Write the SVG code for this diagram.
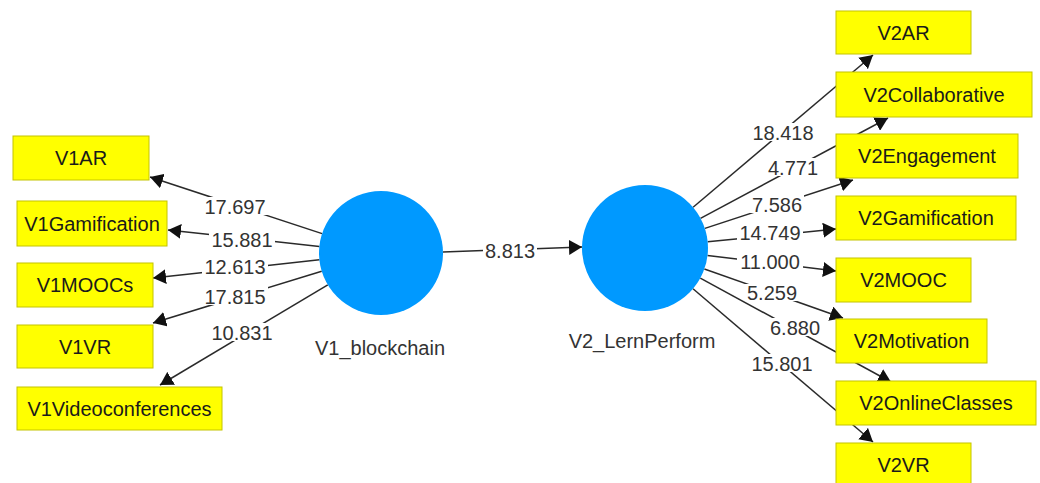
<svg xmlns="http://www.w3.org/2000/svg" width="1040" height="483" viewBox="0 0 1040 483">
  <defs>
    <marker id="arrow" markerUnits="userSpaceOnUse" markerWidth="13" markerHeight="15" refX="13" refY="7.5" orient="auto">
      <path d="M0,0 L13,7.5 L0,15 z" fill="#111"/>
    </marker>
    <style>
      text { font-family: "Liberation Sans", Arial, sans-serif; font-size: 20px; }
      .ind rect { fill: #ffff00; stroke: #c4c400; stroke-width: 1; }
      .ind text { fill: #1a1a1a; text-anchor: middle; }
      .lv circle { fill: #0099ff; }
      .lv text { fill: #333; text-anchor: middle; }
      .edges line { stroke: #2a2a2a; stroke-width: 1.5; marker-end: url(#arrow); }
      .val rect { fill: #fff; }
      .val text { fill: #333; text-anchor: middle; }
    </style>
  </defs>
  <rect width="1040" height="483" fill="#fff"/>

  <!-- connectors -->
  <g id="edges" class="edges">
    <line x1="443" y1="252" x2="582" y2="247"/>
    <line x1="322.1" y1="233.6" x2="150" y2="177"/>
    <line x1="319.4" y1="246.4" x2="168" y2="230"/>
    <line x1="319.4" y1="259.8" x2="153" y2="278"/>
    <line x1="321.7" y1="271.2" x2="153" y2="323"/>
    <line x1="327.8" y1="284.8" x2="160" y2="385"/>
    <line x1="693.1" y1="207.3" x2="873" y2="55"/>
    <line x1="700.5" y1="218.3" x2="888" y2="118"/>
    <line x1="704.9" y1="228.4" x2="853" y2="180"/>
    <line x1="707.7" y1="241.8" x2="836" y2="229"/>
    <line x1="707.5" y1="255.5" x2="836" y2="271"/>
    <line x1="704.4" y1="269" x2="843" y2="318"/>
    <line x1="700.3" y1="278.1" x2="891" y2="382"/>
    <line x1="693" y1="288.8" x2="873" y2="442"/>
  </g>

  <!-- path coefficients / loadings -->
  <g id="edge-labels" class="val">
    <rect x="483" y="241" width="54" height="18"/><text x="510" y="258">8.813</text>
    <rect x="202" y="197" width="66" height="18"/><text x="235" y="214">17.697</text>
    <rect x="209" y="230" width="66" height="18"/><text x="242" y="247">15.881</text>
    <rect x="202" y="257" width="66" height="18"/><text x="235" y="274">12.613</text>
    <rect x="202" y="287" width="66" height="18"/><text x="235" y="304">17.815</text>
    <rect x="209" y="323" width="66" height="18"/><text x="242" y="340">10.831</text>
    <rect x="750" y="123" width="66" height="18"/><text x="783" y="140">18.418</text>
    <rect x="766" y="158" width="54" height="18"/><text x="793" y="175">4.771</text>
    <rect x="750" y="195" width="54" height="18"/><text x="777" y="212">7.586</text>
    <rect x="737" y="223" width="66" height="18"/><text x="770" y="240">14.749</text>
    <rect x="737" y="252" width="66" height="18"/><text x="770" y="269">11.000</text>
    <rect x="745" y="284" width="54" height="17"/><text x="772" y="300">5.259</text>
    <rect x="768" y="318" width="54" height="18"/><text x="795" y="335">6.880</text>
    <rect x="749" y="354" width="66" height="18"/><text x="782" y="371">15.801</text>
  </g>

  <!-- latent variables -->
  <g id="V1_blockchain" class="lv">
    <circle cx="381" cy="253" r="62"/>
    <text x="380" y="355">V1_blockchain</text>
  </g>
  <g id="V2_LernPerform" class="lv">
    <circle cx="645" cy="248" r="63"/>
    <text x="642" y="348">V2_LernPerform</text>
  </g>

  <!-- indicators of V1_blockchain -->
  <g id="V1AR" class="ind"><rect x="13" y="136" width="136" height="44"/><text x="81" y="165">V1AR</text></g>
  <g id="V1Gamification" class="ind"><rect x="17" y="201" width="150" height="45"/><text x="92" y="230.5">V1Gamification</text></g>
  <g id="V1MOOCs" class="ind"><rect x="17" y="263" width="136" height="44"/><text x="85" y="292">V1MOOCs</text></g>
  <g id="V1VR" class="ind"><rect x="17" y="325" width="136" height="43"/><text x="85" y="353.5">V1VR</text></g>
  <g id="V1Videoconferences" class="ind"><rect x="17" y="387" width="205" height="43"/><text x="119.5" y="415.5">V1Videoconferences</text></g>

  <!-- indicators of V2_LernPerform -->
  <g id="V2AR" class="ind"><rect x="836" y="11" width="135" height="43"/><text x="903.5" y="39.5">V2AR</text></g>
  <g id="V2Collaborative" class="ind"><rect x="836" y="72" width="196" height="45"/><text x="934" y="101.5">V2Collaborative</text></g>
  <g id="V2Engagement" class="ind"><rect x="836" y="134" width="182" height="44"/><text x="927" y="163">V2Engagement</text></g>
  <g id="V2Gamification" class="ind"><rect x="836" y="196" width="180" height="44"/><text x="926" y="225">V2Gamification</text></g>
  <g id="V2MOOC" class="ind"><rect x="836" y="258" width="135" height="44"/><text x="903.5" y="287">V2MOOC</text></g>
  <g id="V2Motivation" class="ind"><rect x="836" y="319" width="151" height="44"/><text x="911.5" y="348">V2Motivation</text></g>
  <g id="V2OnlineClasses" class="ind"><rect x="836" y="381" width="200" height="44"/><text x="936" y="410">V2OnlineClasses</text></g>
  <g id="V2VR" class="ind"><rect x="836" y="443" width="135" height="44"/><text x="903.5" y="472">V2VR</text></g>
</svg>
